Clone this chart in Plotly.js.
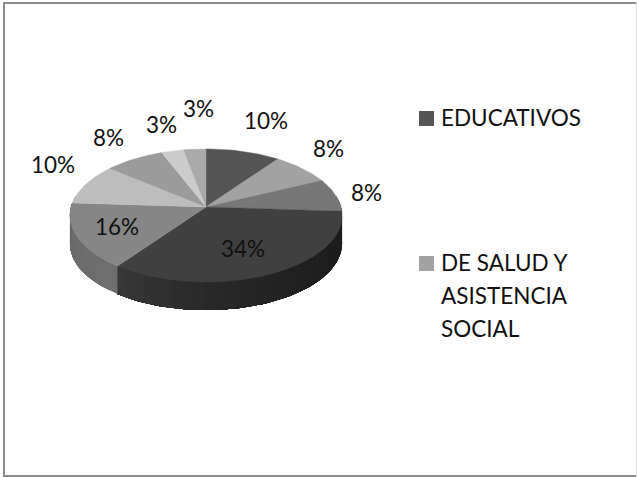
<!DOCTYPE html>
<html><head><meta charset="utf-8">
<script src="https://cdn.plot.ly/plotly-3.0.1.min.js"></script>
<style>html,body{margin:0;padding:0;background:#fff}#c{width:637px;height:477px}</style>
</head><body><div id="c"></div>
<script>
const sliceValues = [10, 8, 8, 34, 16, 10, 8, 3, 3];
const sliceLabels = ['10%', '8%', '8%', '34%', '16%', '10%', '8%', '3%', '3%'];
const topColors = ['#555555', '#a2a2a2', '#777777', '#404040', '#868686', '#bdbdbd', '#9b9b9b', '#cccccc', '#aaaaaa'];
const wallShadeStart = [[60,60,60],[70,70,70],[34,34,34],[28,28,28],[110,110,110],[120,120,120],[120,120,120],[120,120,120],[120,120,120]];
const wallShadeEnd = [[60,60,60],[70,70,70],[30,30,30],[56,56,56],[100,100,100],[120,120,120],[120,120,120],[120,120,120],[120,120,120]];
const legendLines = ['EDUCATIVOS', 'DE SALUD Y', 'ASISTENCIA', 'SOCIAL'];
const legendColors = ['#555555', '#a2a2a2'];

// Projection of the tilted disc into the page-pixel axes
const cx = 206, apexY = 207, K = 135, persp = 0.128, rise = -39, depth = 28;
function proj(deg) {
  const t = deg * Math.PI / 180, X = Math.sin(t), Z = Math.cos(t), d = 1 + persp * Z;
  return [cx + K * X / d, (rise * Z + apexY) / d];
}
const total = sliceValues.reduce((a, b) => a + b, 0);
const traces = [];
function poly(xs, ys, color, w) {
  traces.push({type: 'scatter', mode: 'lines', x: xs, y: ys, fill: 'toself', fillcolor: color,
    line: {width: w, color: color}, hoverinfo: 'skip', showlegend: false});
}
// Walls: painted left-to-front order with overlap so no seams show
let acc = 0;
sliceValues.forEach((v, i) => {
  const a0 = acc / total * 360, a1 = (acc + v) / total * 360; acc += v;
  const lo = Math.max(a0, 80), hi = Math.min(a1, 280);
  if (hi <= lo) return;
  const n = Math.max(1, Math.round((hi - lo) / 4));
  for (let s = 0; s < n; s++) {
    const b0 = lo + (hi - lo) * s / n, b1 = hi;
    const f = Math.pow((s + 0.5) / n, 2);
    const c = wallShadeStart[i].map((q, k) => Math.round(q + (wallShadeEnd[i][k] - q) * f));
    const xs = [], ys = [];
    for (let a = b0; a < b1; a += 2) { const p = proj(a); xs.push(p[0]); ys.push(p[1]); }
    const e = proj(b1); xs.push(e[0], e[0]); ys.push(e[1], e[1] + depth);
    for (let a = b1 - 2; a > b0; a -= 2) { const p = proj(a); xs.push(p[0]); ys.push(p[1] + depth); }
    const st = proj(b0); xs.push(st[0], st[0]); ys.push(st[1] + depth, st[1]);
    poly(xs, ys, `rgb(${c.join(',')})`, 0);
  }
});
// Top face
acc = 0;
sliceValues.forEach((v, i) => {
  const a0 = acc / total * 360, a1 = (acc + v) / total * 360; acc += v;
  const xs = [cx], ys = [apexY];
  for (let a = a0; a < a1; a += 1.5) { const p = proj(a); xs.push(p[0]); ys.push(p[1]); }
  const e = proj(a1); xs.push(e[0], cx); ys.push(e[1], apexY);
  poly(xs, ys, topColors[i], 0.4);
});

const font = {family: 'Lato, Carlito, sans-serif', size: 22.5, color: '#111111'};
const labelPos = [[265.5,120],[328,148],[366,192],[243,248],[117,226],[53,164],[108,137],[161,124],[198,108]];
const annotations = sliceLabels.map((t, i) => ({xref: 'x', yref: 'y', x: labelPos[i][0], y: labelPos[i][1], text: t,
  showarrow: false, font, xanchor: 'center', yanchor: 'middle'}));
const legendLineY = [117, 262, 295, 328];
legendLines.forEach((t, i) => annotations.push({xref: 'x', yref: 'y', x: 439, y: legendLineY[i], text: t,
  showarrow: false, font, xanchor: 'left', yanchor: 'middle', align: 'left'}));

const shapes = [
  {type: 'rect', xref: 'x', yref: 'y', x0: 419, x1: 434, y0: 111, y1: 126, fillcolor: legendColors[0], line: {width: 0}},
  {type: 'rect', xref: 'x', yref: 'y', x0: 419, x1: 434, y0: 256, y1: 271, fillcolor: legendColors[1], line: {width: 0}},
  {type: 'rect', xref: 'x', yref: 'y', x0: 3, x1: 5, y0: 2, y1: 477, fillcolor: '#8c8c8c', line: {width: 0}},
  {type: 'rect', xref: 'x', yref: 'y', x0: 3, x1: 636, y0: 2, y1: 4, fillcolor: '#8c8c8c', line: {width: 0}},
  {type: 'rect', xref: 'x', yref: 'y', x0: 3, x1: 637, y0: 475, y1: 477, fillcolor: '#8c8c8c', line: {width: 0}},
  {type: 'rect', xref: 'x', yref: 'y', x0: 636, x1: 637, y0: 2, y1: 477, fillcolor: '#dddddd', line: {width: 0}}
];
Plotly.newPlot('c', traces, {
  width: 637, height: 477, margin: {l: 0, r: 0, t: 0, b: 0},
  paper_bgcolor: '#ffffff', plot_bgcolor: '#ffffff', showlegend: false,
  xaxis: {range: [0, 637], visible: false, fixedrange: true},
  yaxis: {range: [477, 0], visible: false, fixedrange: true},
  annotations, shapes
}, {displayModeBar: false, staticPlot: true});
</script></body></html>
